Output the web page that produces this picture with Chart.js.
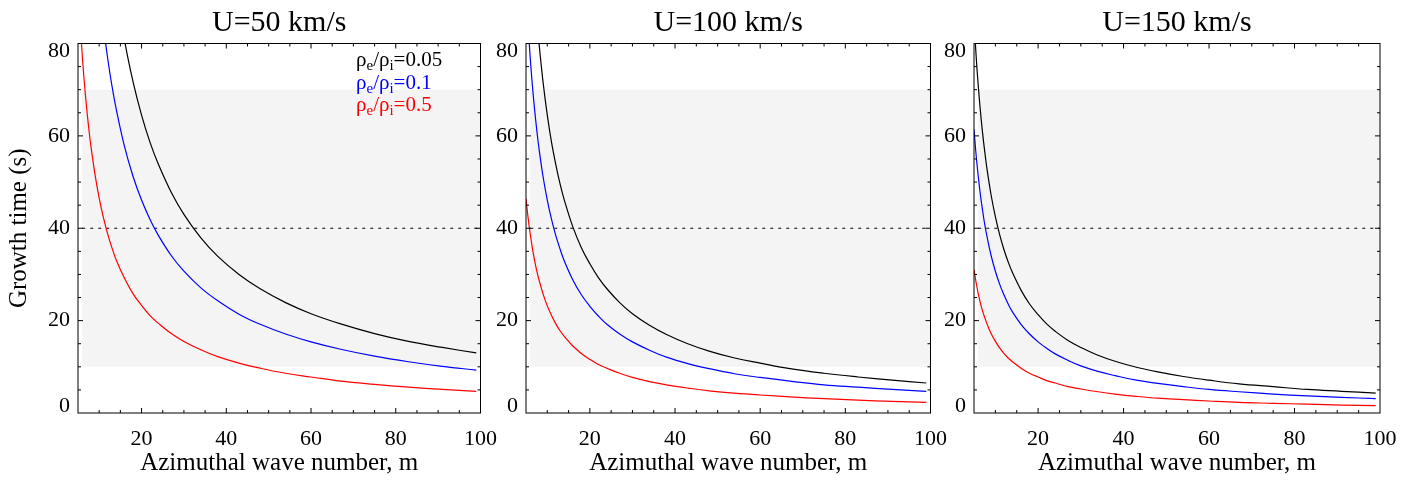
<!DOCTYPE html>
<html>
<head>
<meta charset="utf-8">
<script src="https://cdn.jsdelivr.net/npm/chart.js@4.4.1/dist/chart.umd.min.js"></script>
<style>
  body { margin: 0; background: #fff; width: 1417px; height: 481px; position: relative; overflow: hidden; }
  canvas { position: absolute; top: 0; }
</style>
</head>
<body>
<canvas id="c1" width="510" height="481" style="left:0px"></canvas>
<canvas id="c2" width="470" height="481" style="left:490px"></canvas>
<canvas id="c3" width="477" height="481" style="left:940px"></canvas>
<script>
// azimuthal wave number grid (x values)
var mGrid = [5, 5.5, 6, 6.5, 7, 7.5, 8, 9, 10, 11, 12, 13, 14, 16, 18, 20, 22, 24, 27, 30, 34, 38, 43, 48, 54, 60, 67, 75, 83, 91, 99];

var panelTitles = ["U=50 km/s", "U=100 km/s", "U=150 km/s"];
var ratioLabels = ["0.05", "0.1", "0.5"];
var lineColors = ["#000000", "#0000ff", "#ff0000"];
var xTickValues = [20, 40, 60, 80, 100];
var yTickValues = [0, 20, 40, 60, 80];

// growth time (s); null = off the top of the plot
var u50r005 = [null, null, null, null, null, null, null, null, null, null, null, null, 92.1, 80.6, 71.7, 64.5, 58.6, 53.8, 47.8, 43.0, 37.9, 33.9, 30.0, 26.9, 23.9, 21.5, 19.3, 17.2, 15.5, 14.2, 13.0];
var u50r01 = [null, null, null, null, null, null, null, null, null, 83.8, 76.8, 70.9, 65.9, 57.6, 51.2, 46.1, 41.9, 38.4, 34.1, 30.7, 27.1, 24.3, 21.4, 19.2, 17.1, 15.4, 13.8, 12.3, 11.1, 10.1, 9.3];
var u50r05 = [null, 84.5, 77.5, 71.5, 66.4, 62.0, 58.1, 51.7, 46.5, 42.3, 38.8, 35.8, 33.2, 29.1, 25.8, 23.3, 21.1, 19.4, 17.2, 15.5, 13.7, 12.2, 10.8, 9.7, 8.6, 7.8, 6.9, 6.2, 5.6, 5.1, 4.7];

var u100r005 = [null, null, null, null, null, 86.0, 80.6, 71.7, 64.5, 58.6, 53.8, 49.6, 46.1, 40.3, 35.8, 32.3, 29.3, 26.9, 23.9, 21.5, 19.0, 17.0, 15.0, 13.4, 11.9, 10.8, 9.6, 8.6, 7.8, 7.1, 6.5];
var u100r01 = [null, 83.8, 76.8, 70.9, 65.9, 61.5, 57.6, 51.2, 46.1, 41.9, 38.4, 35.5, 32.9, 28.8, 25.6, 23.1, 21.0, 19.2, 17.1, 15.4, 13.6, 12.1, 10.7, 9.6, 8.5, 7.7, 6.9, 6.1, 5.6, 5.1, 4.7];
var u100r05 = [46.4, 42.2, 38.7, 35.7, 33.1, 30.9, 29.0, 25.8, 23.2, 21.1, 19.3, 17.8, 16.6, 14.5, 12.9, 11.6, 10.5, 9.7, 8.6, 7.7, 6.8, 6.1, 5.4, 4.8, 4.3, 3.9, 3.5, 3.1, 2.8, 2.5, 2.3];

var u150r005 = [85.0, 77.3, 70.8, 65.4, 60.7, 56.7, 53.1, 47.2, 42.5, 38.6, 35.4, 32.7, 30.4, 26.6, 23.6, 21.3, 19.3, 17.7, 15.7, 14.2, 12.5, 11.2, 9.9, 8.9, 7.9, 7.1, 6.3, 5.7, 5.1, 4.7, 4.3];
var u150r01 = [61.4, 55.8, 51.2, 47.2, 43.9, 40.9, 38.4, 34.1, 30.7, 27.9, 25.6, 23.6, 21.9, 19.2, 17.1, 15.4, 14.0, 12.8, 11.4, 10.2, 9.0, 8.1, 7.1, 6.4, 5.7, 5.1, 4.6, 4.1, 3.7, 3.4, 3.1];
var u150r05 = [31.0, 28.2, 25.8, 23.8, 22.1, 20.7, 19.4, 17.2, 15.5, 14.1, 12.9, 11.9, 11.1, 9.7, 8.6, 7.8, 7.0, 6.5, 5.7, 5.2, 4.6, 4.1, 3.6, 3.2, 2.9, 2.6, 2.3, 2.1, 1.9, 1.7, 1.6];

// shaded band and dashed reference line
var bandM = [6, 100];
var bandT = [10, 70];
var refLineM = [6, 100];
var refLineT = 40;

var serif = "'Liberation Serif', 'Times New Roman', serif";

function drawRatio(ctx, x, y, value, color) {
  ctx.fillStyle = color;
  var parts = [["ρ", 21, 0], ["e", 15, 4], ["/ρ", 21, 0], ["i", 15, 4], ["=" + value, 21, 0]];
  parts.forEach(function (p) {
    ctx.font = p[1] + "px " + serif;
    ctx.fillText(p[0], x, y + p[2]);
    x += ctx.measureText(p[0]).width;
  });
}

function framePlugin(title, showLegend) {
  return {
    id: "frame",
    beforeDatasetsDraw: function (chart) {
      var ctx = chart.ctx, xs = chart.scales.x, ys = chart.scales.y;
      var x0 = xs.getPixelForValue(bandM[0]), x1 = xs.getPixelForValue(bandM[1]);
      var y0 = ys.getPixelForValue(bandT[1]), y1 = ys.getPixelForValue(bandT[0]);
      ctx.save();
      ctx.fillStyle = "#f4f4f4";
      ctx.fillRect(x0, y0, x1 - x0, y1 - y0);
      ctx.restore();
    },
    afterDatasetsDraw: function (chart) {
      var ctx = chart.ctx, a = chart.chartArea, xs = chart.scales.x, ys = chart.scales.y;
      ctx.save();
      ctx.strokeStyle = "#000";
      ctx.lineWidth = 1;
      ctx.strokeRect(a.left, a.top, a.right - a.left, a.bottom - a.top);
      ctx.beginPath();
      for (var v = 5; v < 80; v += 5) {
        var py = ys.getPixelForValue(v);
        var len = v % 20 === 0 ? 5 : 3;
        ctx.moveTo(a.left, py); ctx.lineTo(a.left + len, py);
        ctx.moveTo(a.right, py); ctx.lineTo(a.right - len, py);
      }
      for (var w = 10; w < 100; w += 5) {
        var px = xs.getPixelForValue(w);
        var l2 = w % 20 === 0 ? 5 : 3;
        ctx.moveTo(px, a.bottom); ctx.lineTo(px, a.bottom - l2);
        ctx.moveTo(px, a.top); ctx.lineTo(px, a.top + l2);
      }
      ctx.stroke();
      ctx.restore();
    },
    afterDraw: function (chart) {
      var ctx = chart.ctx, a = chart.chartArea;
      ctx.save();
      ctx.fillStyle = "#000";
      ctx.font = "30px " + serif;
      ctx.textAlign = "center";
      ctx.textBaseline = "alphabetic";
      ctx.fillText(title, (a.left + a.right) / 2, 31);
      if (showLegend) {
        ctx.textAlign = "left";
        drawRatio(ctx, 356, 66, ratioLabels[0], lineColors[0]);
        drawRatio(ctx, 356, 88.5, ratioLabels[1], lineColors[1]);
        drawRatio(ctx, 356, 111, ratioLabels[2], lineColors[2]);
      }
      ctx.restore();
    }
  };
}

function makePanel(id, title, series, yWidth, canvasWidth, showYTitle, showLegend) {
  var datasets = series.map(function (vals, i) {
    return {
      data: mGrid.map(function (m, j) { return { x: m, y: vals[j] }; }),
      borderColor: lineColors[i],
      borderWidth: 1.2,
      pointRadius: 0,
      tension: 0.4,
      fill: false
    };
  });
  datasets.push({
    data: [{ x: refLineM[0], y: refLineT }, { x: refLineM[1], y: refLineT }],
    borderColor: "#000",
    borderWidth: 1,
    borderDash: [3, 5],
    pointRadius: 0,
    fill: false
  });

  new Chart(document.getElementById(id), {
    type: "line",
    data: { datasets: datasets },
    options: {
      responsive: false,
      animation: false,
      events: [],
      layout: { autoPadding: false, padding: { top: 43.5, left: 0, bottom: 0, right: canvasWidth - yWidth - 406 } },
      plugins: { legend: { display: false }, tooltip: { enabled: false } },
      scales: {
        x: {
          type: "linear",
          min: 5,
          max: 100,
          afterBuildTicks: function (s) { s.ticks = xTickValues.map(function (v) { return { value: v }; }); },
          afterFit: function (s) { s.height = 68; },
          grid: { display: false, drawTicks: false },
          border: { display: false },
          ticks: { color: "#000", padding: 13, maxRotation: 0, font: { family: serif, size: 22 } },
          title: { display: true, text: "Azimuthal wave number, m", color: "#000", padding: { top: 0, bottom: 3 }, font: { family: serif, size: 25 } }
        },
        y: {
          type: "linear",
          min: 0,
          max: 80,
          afterBuildTicks: function (s) { s.ticks = yTickValues.map(function (v) { return { value: v }; }); },
          afterFit: function (s) { s.width = yWidth; },
          grid: { display: false, drawTicks: false },
          border: { display: false },
          ticks: {
            color: "#000",
            padding: 8,
            font: { family: serif, size: 22, lineHeight: 0.66 },
            callback: function (v) {
              if (v === 0) return ["0", ""];
              if (v === 80) return ["", "80"];
              return String(v);
            }
          },
          title: { display: showYTitle, text: "Growth time (s)", color: "#000", padding: { top: 4, bottom: 0 }, font: { family: serif, size: 25 } }
        }
      }
    },
    plugins: [framePlugin(title, showLegend)]
  });
}

makePanel("c1", panelTitles[0], [u50r005, u50r01, u50r05], 78, 510, true, true);
makePanel("c2", panelTitles[1], [u100r005, u100r01, u100r05], 36, 470, false, false);
makePanel("c3", panelTitles[2], [u150r005, u150r01, u150r05], 34, 477, false, false);
</script>
</body>
</html>
